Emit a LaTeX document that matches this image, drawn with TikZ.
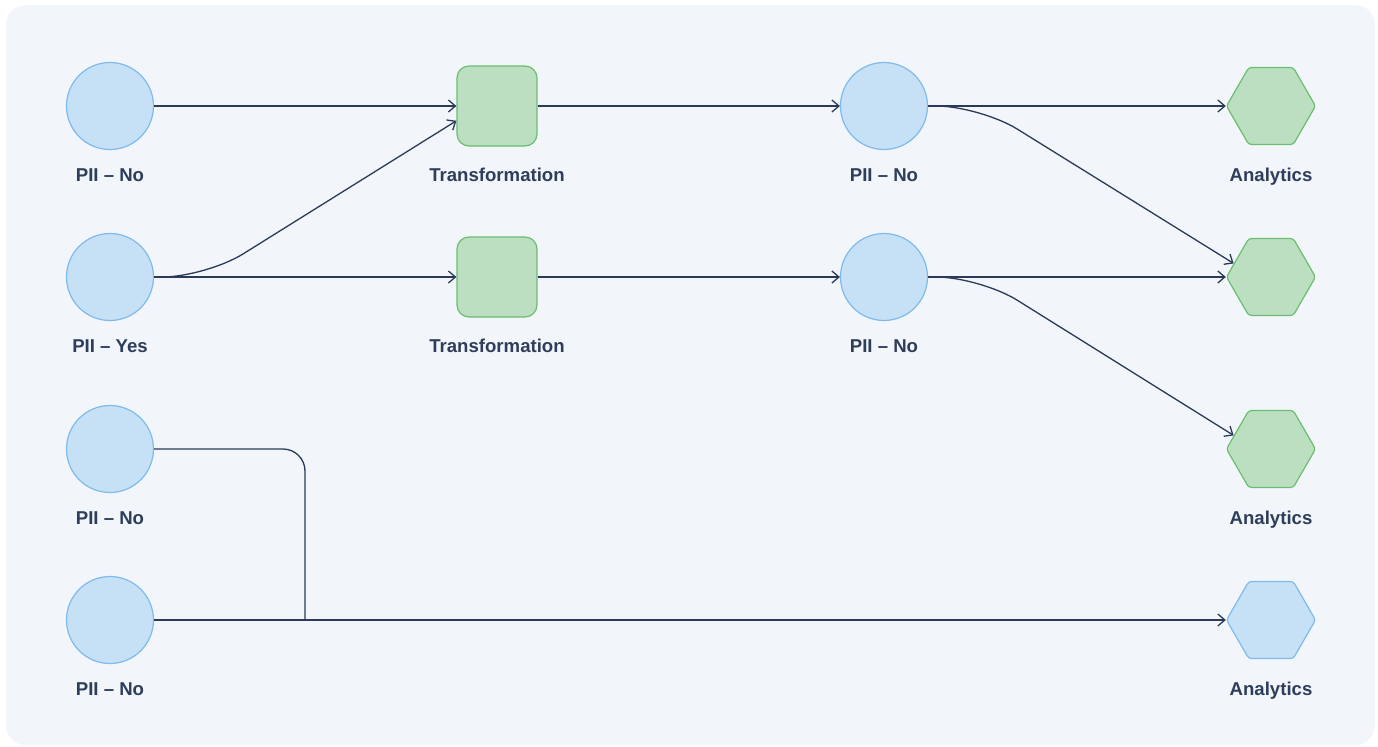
\documentclass[tikz,border=0pt]{standalone}
\usepackage{fontspec}
\setmainfont{Liberation Sans}
\usepackage{xcolor}
\usepackage{tikz}
\usetikzlibrary{positioning, arrows.meta, shapes.geometric, calc}

\definecolor{canvas}{HTML}{F2F6FB}
\definecolor{bluefill}{HTML}{C6E1F6}
\definecolor{blueline}{HTML}{7FBAEC}
\definecolor{greenfill}{HTML}{BCDFC1}
\definecolor{greenline}{HTML}{6CBD70}
\definecolor{wirecol}{HTML}{2A3A58}
\definecolor{ink}{HTML}{2D3D5A}

\begin{document}
\begin{tikzpicture}[
    x=0.5pt, y=-0.5pt,
    srcnode/.style={circle, draw=blueline, fill=bluefill, line width=0.6pt, minimum size=43.5pt, inner sep=0pt},
    trfnode/.style={rectangle, rounded corners=6pt, draw=greenline, fill=greenfill, line width=0.6pt, minimum size=40pt, inner sep=0pt},
    outnode/.style={regular polygon, regular polygon sides=6, rounded corners=1.5pt, draw=greenline, fill=greenfill, line width=0.6pt, minimum size=44.5pt, inner sep=0pt},
    lbl/.style={font=\fontsize{9.3}{11}\selectfont\bfseries, text=ink, inner sep=0pt, text height=7pt, text depth=2pt},
    link/.style={draw=wirecol, line width=0.65pt},
    arrow/.style={link, -{Straight Barb[length=3.5pt, width=6pt]}}
]

% canvas
\useasboundingbox (0,0) rectangle (1378,746);
\fill[white] (0,0) rectangle (1378,746);
\fill[canvas, rounded corners=10pt] (6,5) rectangle (1375,745);

% sources
\node[srcnode] (c1) at (110,106) {};
\node[srcnode] (c2) at (110,277) {};
\node[srcnode] (c5) at (110,449) {};
\node[srcnode] (c6) at (110,620) {};

% transformations
\node[trfnode] (t1) at (497,106) {};
\node[trfnode] (t2) at (497,277) {};

% intermediate datasets
\node[srcnode] (c3) at (884,106) {};
\node[srcnode] (c4) at (884,277) {};

% analytics
\node[outnode] (h1) at (1271,106) {};
\node[outnode] (h2) at (1271,277) {};
\node[outnode] (h3) at (1271,449) {};
\node[outnode, draw=blueline, fill=bluefill] (h4) at (1271,620) {};

% labels
\node[lbl, below=8.5pt of c1] (c1-lbl) {PII – No};
\node[lbl, below=8.5pt of c2] (c2-lbl) {PII – Yes};
\node[lbl, below=8.5pt of c5] (c5-lbl) {PII – No};
\node[lbl, below=8.5pt of c6] (c6-lbl) {PII – No};
\node[lbl, below=10.3pt of t1] (t1-lbl) {Transformation};
\node[lbl, below=10.3pt of t2] (t2-lbl) {Transformation};
\node[lbl, below=8.5pt of c3] (c3-lbl) {PII – No};
\node[lbl, below=8.5pt of c4] (c4-lbl) {PII – No};
\node[lbl, below=11pt of h1] (h1-lbl) {Analytics};
\node[lbl, below=11pt of h3] (h3-lbl) {Analytics};
\node[lbl, below=11pt of h4] (h4-lbl) {Analytics};

% edges
\draw[arrow] (c1.east) -- (t1.west);
\draw[arrow, rounded corners=22pt] (c2.east) -- ++(52,0) -- (t1.200);
\draw[arrow] (c2.east) -- (t2.west);
\draw[arrow] (t1.east) -- (c3.west);
\draw[arrow] (t2.east) -- (c4.west);
\draw[arrow] (c3.east) -- (h1.west);
\draw[arrow, rounded corners=22pt] (c3.east) -- ++(52,0) -- (h2.160);
\draw[arrow] (c4.east) -- (h2.west);
\draw[arrow, rounded corners=22pt] (c4.east) -- ++(52,0) -- (h3.160);

\coordinate (merge) at (305,620);
\draw[link, rounded corners=11pt] (c5.east) -| (merge);
\draw[arrow] (c6.east) -- (h4.west);

\end{tikzpicture}
\end{document}
